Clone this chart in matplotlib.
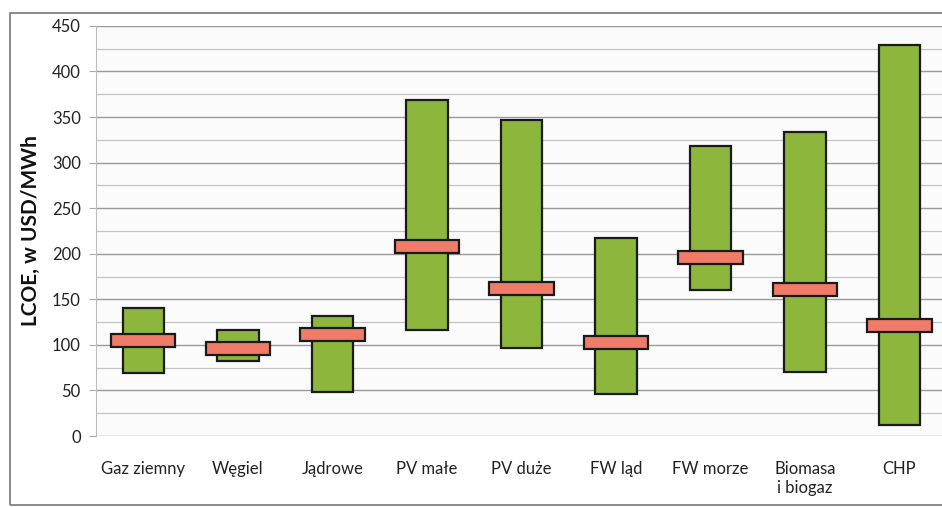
import matplotlib.pyplot as plt
from matplotlib.patches import Rectangle
from matplotlib.ticker import MultipleLocator

plt.rcParams['font.family'] = ['Lato', 'DejaVu Sans']

# LCOE ranges per technology, USD/MWh
technologies = ['Gaz ziemny', 'Węgiel', 'Jądrowe', 'PV małe', 'PV duże',
                'FW ląd', 'FW morze', 'Biomasa\ni biogaz', 'CHP']
lcoe_low = [69, 82, 48, 116, 97, 46, 160, 70, 12]
lcoe_high = [141, 116, 132, 369, 347, 217, 318, 333, 429]
lcoe_mid = [105, 96, 111, 208, 162, 103, 196, 161, 121]

green = '#8cb63c'
salmon = '#ef7b68'
band = 14

fig = plt.figure(figsize=(9.42, 5.07), dpi=100)
ax = fig.add_axes([0.102, 0.14, 0.898, 0.809])
ax.set_facecolor('#fbfbfb')

x = list(range(len(technologies)))
span = [h - l for l, h in zip(lcoe_low, lcoe_high)]
ax.bar(x, span, bottom=lcoe_low, width=0.44, color=green,
       edgecolor='#1a1a1a', linewidth=1.6, zorder=3)
ax.bar(x, [band] * len(x), bottom=[m - band / 2 for m in lcoe_mid], width=0.68,
       color=salmon, edgecolor='#1a1a1a', linewidth=1.6, zorder=4)

ax.set_xlim(-0.5, 8.45)
ax.set_ylim(0, 450)
ax.yaxis.set_major_locator(MultipleLocator(50))
ax.yaxis.set_minor_locator(MultipleLocator(25))
ax.grid(True, axis='y', which='major', color='#9a9a9a', linewidth=1.0, zorder=0)
ax.grid(True, axis='y', which='minor', color='#c4c4c4', linewidth=0.9, zorder=0)

ax.set_xticks(x)
ax.set_xticklabels(technologies, fontsize=12, color='#222222', va='top')
ax.tick_params(axis='x', length=0, pad=18)
ax.tick_params(axis='y', which='major', length=5, color='#aaaaaa', labelsize=12,
               labelcolor='#222222', pad=6)
ax.tick_params(axis='y', which='minor', length=0)

for side in ['top', 'right', 'bottom']:
    ax.spines[side].set_visible(False)
ax.spines['left'].set_color('#bbbbbb')

fig.text(0.033, 0.545, 'LCOE, w USD/MWh', rotation=90, fontsize=15,
         fontweight='bold', ha='center', va='center', color='#111111')

# outer frame around the chart
fig.patches.append(Rectangle((0.011, 0.004), 1.2, 0.97, transform=fig.transFigure,
                             fill=False, edgecolor='#777777', linewidth=1.2))

fig.savefig('out.png', dpi=100)
